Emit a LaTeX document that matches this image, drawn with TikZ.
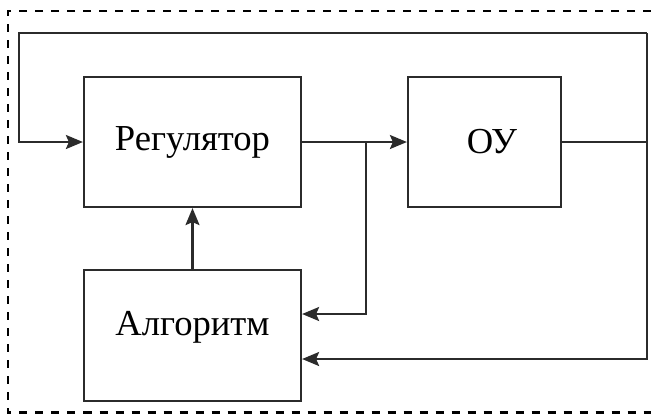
\documentclass[tikz,border=0pt]{standalone}
\usepackage{fontspec}
\setmainfont{Liberation Serif}
\usetikzlibrary{positioning,arrows.meta,calc}
\definecolor{lineInk}{HTML}{2B2B2B}

\begin{document}
\begin{tikzpicture}[x=0.5pt, y=-0.5pt, font=\fontsize{18.3}{21}\selectfont,
      >={Stealth[length=8.5pt,width=7pt,inset=1.5pt]},
      blk/.style={draw=lineInk, line width=1.1pt, minimum height=65pt, inner sep=0pt},
      wire/.style={draw=lineInk, line width=1.1pt}]
    \useasboundingbox (0,0) rectangle (651,414);
    % ---- frame
    \draw[line width=1.4pt, dash pattern=on 4pt off 4pt] (651,11) -- (8,11) -- (8,412.5) -- (651,412.5);
    % ---- blocks
    \node[blk, minimum width=108.5pt] (reg) at (192.5,142) {Регулятор};
    \node[blk, minimum width=76.5pt] (ou) at (484.5,142) {\hspace*{7.5pt}ОУ};
    \node[blk, minimum width=108.5pt, minimum height=65.5pt, text depth=12pt] (alg) at (192.5,335.5) {Алгоритм};
    % ---- connectors
    \coordinate (br) at (366,142);
    \coordinate (rt) at (647,33);
    \coordinate (lt) at (19,33);
    \draw[wire, ->] (reg) -- (ou);
    \draw[wire, ->] (br) |- ($(alg.east)+(0,-21.5)$);
    \draw[wire] (ou.east) -- (ou.east -| rt);
    \draw[wire, ->] (rt) |- ($(alg.east)+(0,23.5)$);
    \draw[wire, ->] (rt) -- (lt) |- (reg.west);
    \draw[wire, ->] (alg) -- (reg);
\end{tikzpicture}
\end{document}
